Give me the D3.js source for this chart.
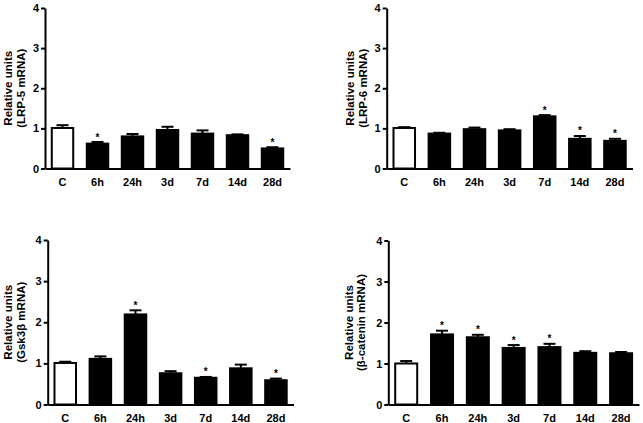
<!DOCTYPE html>
<html><head><meta charset="utf-8">
<script src="https://cdn.jsdelivr.net/npm/d3@7"></script>
<style>
html,body{margin:0;padding:0;background:#fff;}
svg text{font-family:"Liberation Sans",Arial,sans-serif;font-weight:bold;fill:#000;}
</style></head>
<body>
<svg id="chart" width="643" height="423"></svg>
<script>
const categories = ["C","6h","24h","3d","7d","14d","28d"];
const yTicks = [0,1,2,3,4];

const lrp5Values = [1.01, 0.62, 0.80, 0.96, 0.87, 0.83, 0.50];
const lrp5Errors = [0.07, 0.04, 0.06, 0.08, 0.08, 0.02, 0.03];
const lrp5Stars  = ["6h","28d"];

const lrp6Values = [1.01, 0.87, 0.98, 0.95, 1.30, 0.74, 0.69];
const lrp6Errors = [0.02, 0.02, 0.04, 0.03, 0.03, 0.07, 0.05];
const lrp6Stars  = ["7d","14d","28d"];

const gskValues  = [1.01, 1.11, 2.19, 0.76, 0.65, 0.88, 0.59];
const gskErrors  = [0.03, 0.06, 0.10, 0.05, 0.02, 0.09, 0.04];
const gskStars   = ["24h","7d","28d"];

const bcatValues = [1.00, 1.71, 1.64, 1.38, 1.40, 1.26, 1.25];
const bcatErrors = [0.06, 0.09, 0.06, 0.07, 0.08, 0.04, 0.03];
const bcatStars  = ["6h","24h","3d","7d"];

const panels = [
  {label:"(LRP-5 mRNA)", values:lrp5Values, errors:lrp5Errors, stars:lrp5Stars,
   x0:45, x1:290, y0:168.5, y4:8, t1:8, t2:21},
  {label:"(LRP-6 mRNA)", values:lrp6Values, errors:lrp6Errors, stars:lrp6Stars,
   x0:386.7, x1:632.5, y0:168.5, y4:8, t1:350, t2:362.5},
  {label:"(Gsk3β mRNA)", values:gskValues, errors:gskErrors, stars:gskStars,
   x0:47.7, x1:293.5, y0:404.5, y4:240, t1:8, t2:21},
  {label:"(β-catenin mRNA)", values:bcatValues, errors:bcatErrors, stars:bcatStars,
   x0:388.3, x1:639, y0:404.5, y4:240.5, t1:348.5, t2:361}
];

const svg = d3.select("#chart");

panels.forEach(p => {
  const g = svg.append("g");
  const x = d3.scaleBand().domain(categories).range([p.x0, p.x1]).paddingInner(0.33).paddingOuter(0.165);
  const y = d3.scaleLinear().domain([0,4]).range([p.y0, p.y4]);
  const data = categories.map((c,i)=>({c, v:p.values[i], e:p.errors[i]}));

  const capW = 12;
  data.forEach(d => {
    const cx = x(d.c) + x.bandwidth()/2;
    g.append("line").attr("x1",cx).attr("x2",cx).attr("y1",y(d.v)).attr("y2",y(d.v+d.e))
      .attr("stroke","#000").attr("stroke-width",2);
    g.append("line").attr("x1",cx-capW/2).attr("x2",cx+capW/2).attr("y1",y(d.v+d.e)).attr("y2",y(d.v+d.e))
      .attr("stroke","#000").attr("stroke-width",2);
  });

  g.selectAll("rect.bar").data(data).enter().append("rect")
    .attr("class","bar")
    .attr("x", d=>x(d.c)+1)
    .attr("width", x.bandwidth()-2)
    .attr("y", d=>y(d.v))
    .attr("height", d=>y(0)-y(d.v))
    .attr("fill", (d,i)=> i===0 ? "#fff" : "#000")
    .attr("stroke","#000").attr("stroke-width",2);

  data.filter(d=>p.stars.includes(d.c)).forEach(d => {
    g.append("text").attr("x", x(d.c)+x.bandwidth()/2).attr("y", y(d.v+d.e)-1.5)
      .attr("text-anchor","middle").attr("font-size",10).attr("fill","#000").text("*");
  });

  const yAxis = d3.axisLeft(y).tickValues(yTicks).tickFormat(d3.format("d")).tickSize(4).tickSizeOuter(0).tickPadding(2);
  const ya = g.append("g").attr("transform",`translate(${p.x0},0)`).call(yAxis);
  ya.select(".domain").attr("stroke","#000").attr("stroke-width",2);
  ya.selectAll(".tick line").attr("stroke","#000").attr("stroke-width",2);
  ya.selectAll(".tick text").attr("font-size",11).attr("font-family","Liberation Sans, Arial, sans-serif").attr("font-weight","bold").attr("fill","#000");

  const xAxis = d3.axisBottom(x).tickSize(0).tickSizeOuter(0).tickPadding(10);
  const xa = g.append("g").attr("transform",`translate(0,${p.y0})`).call(xAxis);
  xa.select(".domain").attr("stroke","#000").attr("stroke-width",2);
  xa.selectAll(".tick text").attr("font-size",11).attr("font-family","Liberation Sans, Arial, sans-serif").attr("font-weight","bold").attr("fill","#000");

  const cy = (p.y0 + p.y4)/2;
  g.append("text").attr("transform",`translate(${p.t1+4},${cy}) rotate(-90)`)
    .attr("text-anchor","middle").attr("font-size",11.5).text("Relative units");
  g.append("text").attr("transform",`translate(${p.t2+4},${cy}) rotate(-90)`)
    .attr("text-anchor","middle").attr("font-size",11.5).text(p.label);
});
</script>
</body></html>
